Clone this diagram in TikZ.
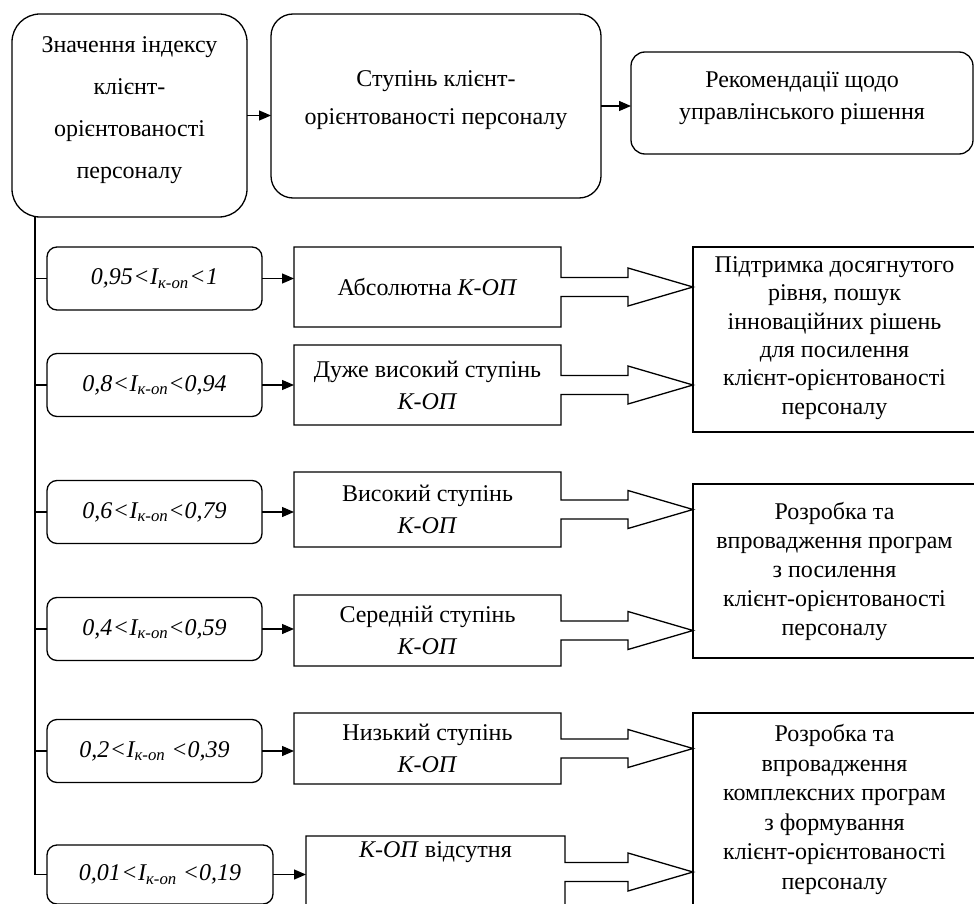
\documentclass[tikz,border=0pt]{standalone}
\usepackage{fontspec}
\setmainfont{Liberation Serif}
\usetikzlibrary{arrows.meta,calc}
\newcommand{\mkarrowbox}[2]{%
  \draw[line] (#1.north east) -- (#1.north west) -- (#1.south west) -- (#1.south east)
    -- ($(#1.east)+(0,9.5)$) -- ($(#1.east -| #2.west)+(-65,9.5)$) -- ($(#1.east -| #2.west)+(-65,19)$)
    -- (#1.east -| #2.west)
    -- ($(#1.east -| #2.west)+(-65,-19)$) -- ($(#1.east -| #2.west)+(-65,-9.5)$) -- ($(#1.east)+(0,-9.5)$) -- cycle;}
\newcommand{\lt}{\kern0.5pt<\kern0.5pt}
\begin{document}
\begin{tikzpicture}[x=1pt,y=-1pt,
  line/.style={line width=1.3pt, line join=miter},
  conn/.style={line width=1.3pt, -{Triangle[length=12pt,width=10pt]}},
  base/.style={inner sep=0pt, outer sep=0pt, align=center, font=\fontsize{24}{29}\selectfont},
  topbox/.style={base, draw, line width=1.3pt, rounded corners=#1},
  ibox/.style={base, draw, line width=1.3pt, rounded corners=10pt, minimum width=215pt, minimum height=63pt, font=\fontsize{24}{29}\selectfont\itshape},
  mbox/.style={base, minimum width=267pt, font=\fontsize{24}{32}\selectfont},
  rbox/.style={base, draw, line width=1.3pt, minimum width=283pt},
]
\useasboundingbox (0,0) rectangle (974,904);

% top row
\node[topbox=28pt, minimum width=235pt, minimum height=203pt, font=\fontsize{24}{42}\selectfont] (b1) at (129.5,115.5) {Значення індексу\\клієнт-\\орієнтованості\\персоналу\\[-26pt]\mbox{}};
\node[topbox=22pt, minimum width=330pt, minimum height=184pt, font=\fontsize{24}{38}\selectfont] (b2) at (436,106) {Ступінь клієнт-\\орієнтованості персоналу\\[-22pt]\mbox{}};
\node[topbox=14pt, minimum width=342pt, minimum height=102pt, font=\fontsize{24}{32}\selectfont] (b3) at (802,103) {Рекомендації щодо\\управлінського рішення\\[-18pt]\mbox{}};
\draw[conn] (b1.east) -- (b1.east -| b2.west);
\draw[conn] (b2.east) -- (b2.east -| b3.west);

% index boxes
\node[ibox] (i1) at (154.5,278.5) {0,95\lt I\textsubscript{к-оп}\lt 1};
\node[ibox] (i2) at (154.5,385) {0,8\lt I\textsubscript{к-оп}<0,94};
\node[ibox] (i3) at (154.5,512) {0,6\lt I\textsubscript{к-оп}<0,79};
\node[ibox] (i4) at (154.5,629) {0,4\lt I\textsubscript{к-оп}<0,59};
\node[ibox] (i5) at (154.5,751) {0,2\lt I\textsubscript{к-оп} <0,39};
\node[ibox, minimum width=226pt, minimum height=59pt] (i6) at (160,874.5) {0,01\lt I\textsubscript{к-оп} <0,19};

% trunk
\coordinate (trunk) at ($(b1.south west)+(23,0)$);
\draw[line] (trunk) |- (i6.west);
\foreach \k in {1,...,5} \draw[line] (trunk |- i\k.west) -- (i\k.west);

% middle boxes
\node[mbox, minimum height=80pt] (m1) at (427.5,287) {Абсолютна \textit{К-ОП}};
\node[mbox, minimum height=80pt] (m2) at (427.5,385) {Дуже високий ступінь\\\textit{К-ОП}};
\node[mbox, minimum height=75pt] (m3) at (427.5,509.5) {Високий ступінь\\\textit{К-ОП}};
\node[mbox, minimum height=71pt] (m4) at (427.5,630.5) {Середній ступінь\\\textit{К-ОП}};
\node[mbox, minimum height=71pt] (m5) at (427.5,748.5) {Низький ступінь\\\textit{К-ОП}};
\node[mbox, minimum width=259pt, minimum height=72pt] (m6) at (435.5,872) {\textit{К-ОП} відсутня\\[4pt]\strut};

\foreach \k in {1,...,6} \draw[conn] (i\k.east) -- (i\k.east -| m\k.west);

% right boxes
\node[rbox, minimum height=185pt, font=\fontsize{24}{28.3}\selectfont] (r1) at (834.5,339.5) {Підтримка досягнутого\\рівня, пошук\\інноваційних рішень\\для посилення\\клієнт-орієнтованості\\персоналу\\[-20pt]\mbox{}};
\node[rbox, minimum height=174pt, font=\fontsize{24}{29}\selectfont] (r2) at (834.5,571) {Розробка та\\впровадження програм\\з посилення\\клієнт-орієнтованості\\персоналу};
\node[rbox, minimum height=193pt, font=\fontsize{24}{29.5}\selectfont] (r3) at (834.5,809.5) {Розробка та\\впровадження\\комплексних програм\\з формування\\клієнт-орієнтованості\\персоналу};

% block arrows
\mkarrowbox{m1}{r1}
\mkarrowbox{m2}{r1}
\mkarrowbox{m3}{r2}
\mkarrowbox{m4}{r2}
\mkarrowbox{m5}{r3}
\mkarrowbox{m6}{r3}
\end{tikzpicture}
\end{document}
